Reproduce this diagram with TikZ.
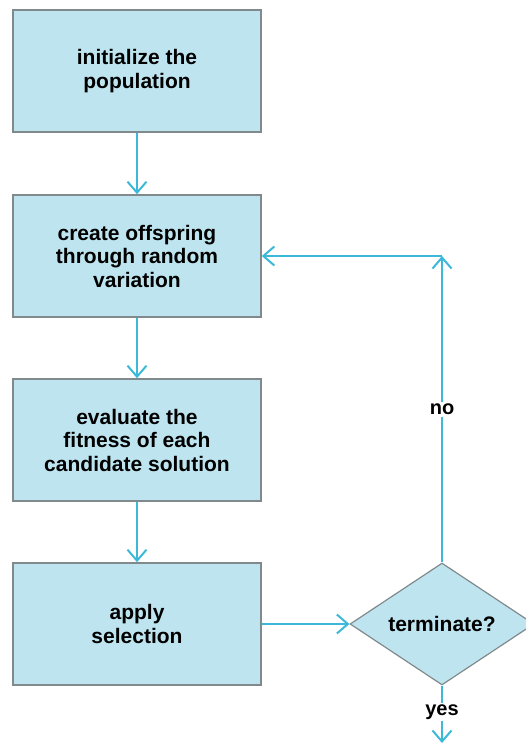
\documentclass[tikz,border=0pt]{standalone}
\usepackage{fontspec}
\setmainfont{Liberation Sans}
\usetikzlibrary{arrows.meta,shapes.geometric}
\definecolor{boxfill}{HTML}{BEE5EF}
\definecolor{boxline}{HTML}{808A8C}
\definecolor{flow}{HTML}{3CB9D9}
\begin{document}
\begin{tikzpicture}[x=1pt,y=-1pt,
  stepbox/.style={draw=boxline,line width=1.6pt,fill=boxfill,
    minimum width=248pt,minimum height=122pt,inner sep=0pt,
    align=center,font=\fontsize{21}{23.5}\selectfont\bfseries},
  decision/.style={diamond,draw=boxline,line width=1.2pt,fill=boxfill,
    minimum width=184pt,minimum height=122pt,inner sep=0pt,aspect=1.5,
    font=\fontsize{21}{24}\selectfont\bfseries},
  flowline/.style={draw=flow,line width=2pt,
    -{Straight Barb[length=11pt,width=19pt,line width=2pt]}},
  lbl/.style={fill=white,inner sep=2pt,font=\fontsize{20}{22}\selectfont\bfseries}]
\useasboundingbox (0,0) rectangle (526,744);
\node[stepbox] (init) at (137,71) {initialize the\\population};
\node[stepbox] (vary) at (137,256) {create offspring\\through random\\variation};
\node[stepbox] (eval) at (137,440) {evaluate the\\fitness of each\\candidate solution};
\node[stepbox] (sel) at (137,624) {apply\\selection};
\node[decision] (term) at (442,624) {terminate?};
\coordinate (corner) at (442,256);
\coordinate (out) at (442,743);
\draw[flowline] (init) -- (vary);
\draw[flowline] (vary) -- (eval);
\draw[flowline] (eval) -- (sel);
\draw[flowline] (sel) -- (term);
\draw[flowline] (term.north) -- node[lbl,pos=0.5] (no) {no} (corner);
\draw[flowline] (corner) -- (vary.east);
\draw[flowline] (term.south) -- node[lbl,pos=0.46] (yes) {yes} (out);
\end{tikzpicture}
\end{document}
